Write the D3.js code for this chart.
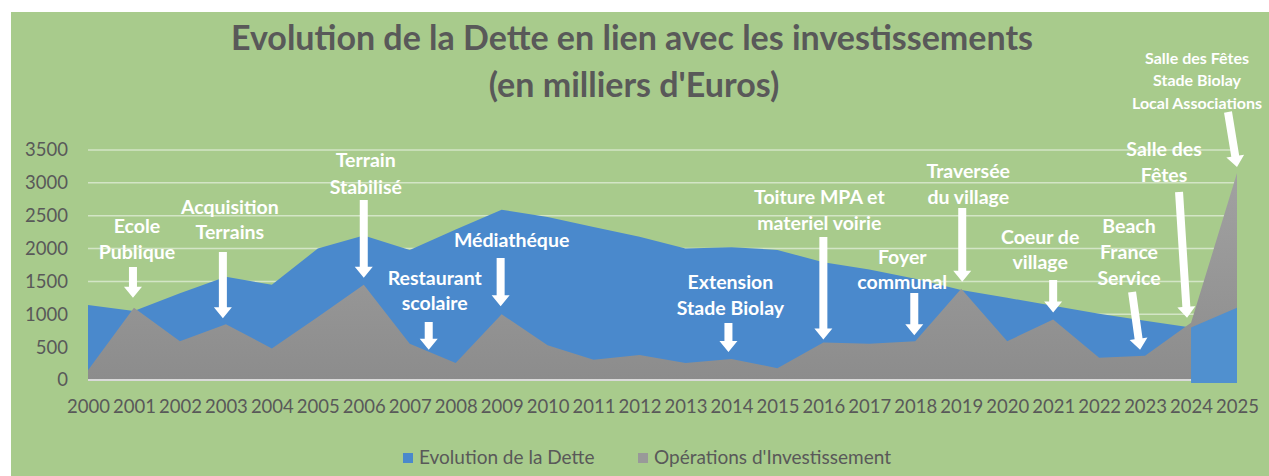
<!DOCTYPE html>
<html>
<head>
<meta charset="utf-8">
<script src="https://cdn.jsdelivr.net/npm/d3@7"></script>
<style>
body { margin: 0; background: #fff; }
svg { display: block; }
text { font-family: Lato, "Open Sans", "DejaVu Sans", sans-serif; }
</style>
</head>
<body>
<svg id="chart" width="1269" height="476"></svg>
<script>
const years = [2000, 2001, 2002, 2003, 2004, 2005, 2006, 2007, 2008, 2009, 2010, 2011, 2012,
               2013, 2014, 2015, 2016, 2017, 2018, 2019, 2020, 2021, 2022, 2023, 2024, 2025];
const debt = [1140, 1050, 1320, 1570, 1450, 2000, 2200, 1980, 2290, 2590, 2480, 2330, 2180,
              2000, 2020, 1980, 1790, 1680, 1540, 1370, 1250, 1130, 1010, 900, 800, 1100];
const investment = [150, 1100, 590, 850, 480, 960, 1450, 550, 260, 1000, 530, 310, 380,
                    260, 320, 180, 570, 550, 590, 1390, 590, 920, 340, 370, 870, 3150];
const yTicks = [0, 500, 1000, 1500, 2000, 2500, 3000, 3500];
const seriesNames = ["Evolution de la Dette", "Opérations d'Investissement"];
const frontYears = [2024, 2025];

const annotations = [
    { year: 2001, lines: ["Ecole", "Publique"] },
    { year: 2003, lines: ["Acquisition", "Terrains"] },
    { year: 2006, lines: ["Terrain", "Stabilisé"] },
    { year: 2007, lines: ["Restaurant", "scolaire"] },
    { year: 2009, lines: ["Médiathéque"] },
    { year: 2014, lines: ["Extension", "Stade Biolay"] },
    { year: 2016, lines: ["Toiture MPA et", "materiel voirie"] },
    { year: 2018, lines: ["Foyer", "communal"] },
    { year: 2019, lines: ["Traversée", "du village"] },
    { year: 2021, lines: ["Coeur de", "village"] },
    { year: 2023, lines: ["Beach", "France", "Service"] },
    { year: 2024, lines: ["Salle des", "Fêtes"] },
    { year: 2025, lines: ["Salle des Fêtes", "Stade Biolay", "Local Associations"] }
];
// placement of each annotation (pixels), same order as above
const annotationLayout = [
    { dx: 3, y: 226, lh: 26, top: 267, topDx: -1, tipDx: -1, gap: 10, fs: 19.5 },
    { dx: 4, y: 207, lh: 25, top: 252, topDx: -3, tipDx: -3, gap: 6, fs: 19.5 },
    { dx: 2, y: 160, lh: 27, top: 200, topDx: 0, tipDx: 0, gap: 7, fs: 19.5 },
    { dx: 25, y: 278, lh: 25, top: 322, topDx: 19, tipDx: 19, gap: -6, fs: 19.5 },
    { dx: 10, y: 240, lh: 25, top: 258, topDx: -1, tipDx: -1, gap: 8, fs: 19.5 },
    { dx: -1, y: 282, lh: 26, top: 323, topDx: -3, tipDx: -3, gap: 7, fs: 19.5 },
    { dx: -4, y: 197, lh: 26, top: 237, topDx: 0, tipDx: 0, gap: 3, fs: 19.5 },
    { dx: -13, y: 257, lh: 25, top: 293, topDx: -1, tipDx: -1, gap: 6, fs: 19.5 },
    { dx: 7, y: 171, lh: 26, top: 208, topDx: 1, tipDx: 1, gap: 7, fs: 19.5 },
    { dx: -13, y: 237, lh: 25, top: 280, topDx: 0, tipDx: 0, gap: 7, fs: 19.5 },
    { dx: -16, y: 226, lh: 26, top: 292, topDx: -13, tipDx: -5, gap: 6, fs: 19.5 },
    { dx: -27, y: 149, lh: 26, top: 192, topDx: -12, tipDx: -4, gap: 5, fs: 19.5 },
    { dx: -40, y: 58, lh: 22.5, top: 112, topDx: -9, tipDx: 0, gap: 6, fs: 16 }
];

const BG = '#a8cb8c';
const BLUE = '#4a89cc';
const TEXT = '#595959';

let svg, xScale, yScale, rows;

document.addEventListener('DOMContentLoaded', function() {
    svg = d3.select('#chart');
    rows = years.map((y, i) => ({ year: y, debt: debt[i], inv: investment[i] }));

    xScale = d3.scaleLinear().domain([2000, 2025]).range([88, 1237]);
    yScale = d3.scaleLinear().domain([0, 3500]).range([380, 150]);

    svg.append('rect')
        .attr('x', 11).attr('y', 12)
        .attr('width', 1258).attr('height', 464)
        .attr('fill', BG);

    const defs = svg.append('defs');
    const grad = defs.append('linearGradient')
        .attr('id', 'grayGrad')
        .attr('gradientUnits', 'userSpaceOnUse')
        .attr('x1', 0).attr('x2', 0)
        .attr('y1', yScale(3500)).attr('y2', yScale(0));
    grad.append('stop').attr('offset', '0%').attr('stop-color', '#a4a4a4');
    grad.append('stop').attr('offset', '100%').attr('stop-color', '#8c8c8c');

    drawTitle();
    drawGrid();
    drawAreas();
    drawAxes();
    drawAnnotations();
    drawLegend();
});

function drawTitle() {
    const t = svg.append('text')
        .attr('text-anchor', 'middle')
        .style('font-size', '34px')
        .style('font-weight', 'bold')
        .attr('fill', TEXT);
    t.append('tspan').attr('x', 632).attr('y', 50)
        .text('Evolution de la Dette en lien avec les investissements');
    t.append('tspan').attr('x', 634).attr('y', 97)
        .text("(en milliers d'Euros)");
}

function drawGrid() {
    svg.append('g')
        .selectAll('line')
        .data(yTicks.filter(v => v > 0))
        .enter()
        .append('line')
        .attr('x1', xScale(2000))
        .attr('x2', xScale(2025))
        .attr('y1', d => yScale(d))
        .attr('y2', d => yScale(d))
        .attr('stroke', '#d3e5c6')
        .attr('stroke-width', 1.5);
}

function drawAreas() {
    const debtArea = d3.area()
        .x(d => xScale(d.year))
        .y0(yScale(0))
        .y1(d => yScale(d.debt));
    const invArea = d3.area()
        .x(d => xScale(d.year))
        .y0(yScale(0))
        .y1(d => yScale(d.inv));

    svg.append('path')
        .datum(rows)
        .attr('fill', BLUE)
        .attr('d', debtArea);

    svg.append('path')
        .datum(rows)
        .attr('fill', 'url(#grayGrad)')
        .attr('d', invArea);

    // axis line
    svg.append('line')
        .attr('x1', xScale(2000)).attr('x2', xScale(2025))
        .attr('y1', yScale(0)).attr('y2', yScale(0))
        .attr('stroke', '#d9d9d9')
        .attr('stroke-width', 2);

    // last two years of debt sit in front
    const frontArea = d3.area()
        .x(d => xScale(d.year))
        .y0(yScale(0) + 3)
        .y1(d => yScale(d.debt));
    svg.append('path')
        .datum(rows.filter(d => frontYears.includes(d.year)))
        .attr('fill', '#5090cf')
        .attr('d', frontArea);
}

function drawAxes() {
    const yAxis = svg.append('g')
        .attr('transform', 'translate(68,0)')
        .call(d3.axisLeft(yScale).tickValues(yTicks).tickFormat(d3.format('d')).tickSize(0).tickPadding(0));
    yAxis.select('.domain').remove();
    yAxis.selectAll('text')
        .style('font-size', '18.5px')
        .style('font-family', 'Lato, sans-serif')
        .attr('fill', TEXT);

    const xAxis = svg.append('g')
        .attr('transform', 'translate(0,400)')
        .call(d3.axisBottom(xScale).tickValues(years).tickFormat(d3.format('d')).tickSize(0).tickPadding(0));
    xAxis.select('.domain').remove();
    xAxis.selectAll('text')
        .style('font-size', '18.5px')
        .style('font-family', 'Lato, sans-serif')
        .attr('fill', TEXT);
}

function arrowPath(x0, y0, x1, y1) {
    const len = Math.hypot(x1 - x0, y1 - y0);
    const ux = (x1 - x0) / len, uy = (y1 - y0) / len;
    const px = -uy, py = ux;
    const shaft = 4, head = 9, headLen = 11;
    const bx = x1 - ux * headLen, by = y1 - uy * headLen;
    const pts = [
        [x0 + px * shaft, y0 + py * shaft],
        [bx + px * shaft, by + py * shaft],
        [bx + px * head, by + py * head],
        [x1, y1],
        [bx - px * head, by - py * head],
        [bx - px * shaft, by - py * shaft],
        [x0 - px * shaft, y0 - py * shaft]
    ];
    return 'M' + pts.map(p => p.join(',')).join('L') + 'Z';
}

function drawAnnotations() {
    const g = svg.append('g');
    annotations.forEach((a, i) => {
        const L = annotationLayout[i];
        const row = rows.find(r => r.year === a.year);
        const x = xScale(a.year);
        g.append('path')
            .attr('d', arrowPath(x + L.topDx, L.top, x + L.tipDx, yScale(row.inv) - L.gap))
            .attr('fill', '#ffffff');
        a.lines.forEach((line, j) => {
            g.append('text')
                .attr('x', x + L.dx)
                .attr('y', L.y + j * L.lh)
                .attr('dy', '0.35em')
                .attr('text-anchor', 'middle')
                .style('font-size', L.fs + 'px')
                .style('font-weight', 'bold')
                .attr('fill', '#ffffff')
                .text(line);
        });
    });
}

function drawLegend() {
    const items = [
        { name: seriesNames[0], color: BLUE, x: 403 },
        { name: seriesNames[1], color: '#999999', x: 638 }
    ];
    const g = svg.append('g');
    items.forEach(it => {
        g.append('rect')
            .attr('x', it.x).attr('y', 453)
            .attr('width', 10).attr('height', 10)
            .attr('fill', it.color);
        g.append('text')
            .attr('x', it.x + 16).attr('y', 464)
            .style('font-size', '19px')
            .attr('fill', TEXT)
            .text(it.name);
    });
}
</script>
</body>
</html>
